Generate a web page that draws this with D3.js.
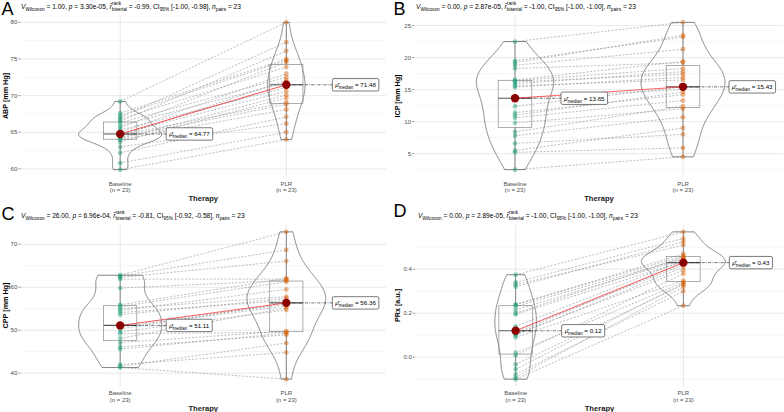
<!DOCTYPE html>
<html><head><meta charset="utf-8">
<script src="https://cdn.jsdelivr.net/npm/d3@7"></script>
<style>
body{margin:0;background:#fff}
svg{display:block}
text{font-family:"Liberation Sans",Arial,sans-serif;white-space:pre}
</style>
</head><body>
<svg id="chart" width="784" height="412"></svg>
<script>
// ---------------- DATA ----------------
const categories = ["Baseline", "PLR"];
const groupN = [23, 23];

// pairs: element i of Baseline is paired with element i of PLR
const abpBaseline = [59.9, 60.8, 62.2, 63.0, 63.7, 64.0, 64.1, 64.3, 64.5, 64.6, 64.7, 64.77, 65.0, 65.3, 65.6, 65.9, 66.3, 66.5, 66.8, 67.0, 67.3, 67.6, 69.2];
const abpPLR      = [64.0, 65.0, 67.1, 66.2, 69.7, 68.1, 70.1, 68.8, 72.1, 69.1, 71.48, 70.6, 73.0, 71.1, 74.6, 71.8, 72.5, 76.1, 73.9, 77.3, 74.8, 75.0, 80.0];

const icpBaseline = [2.5, 5.2, 5.5, 6.6, 7.8, 8.4, 9.8, 10.6, 11.0, 11.4, 12.4, 13.65, 15.4, 15.6, 15.9, 16.2, 16.4, 16.5, 18.3, 18.8, 19.2, 19.5, 22.5];
const icpPLR      = [4.5, 5.9, 9.0, 8.0, 10.7, 12.4, 12.0, 13.3, 14.6, 14.2, 15.43, 15.0, 16.9, 16.5, 17.8, 17.4, 18.3, 19.4, 19.2, 21.3, 23.5, 23.2, 25.5];

const cppBaseline = [41.3, 41.6, 42.0, 45.6, 46.1, 47.1, 48.1, 49.2, 49.6, 50.3, 50.8, 51.11, 53.6, 54.1, 54.6, 55.0, 55.5, 55.9, 59.8, 61.9, 62.3, 62.6, 62.8];
const cppPLR      = [38.6, 47.0, 44.8, 49.3, 48.9, 49.8, 55.2, 49.5, 54.7, 56.36, 55.6, 56.0, 57.4, 56.9, 59.5, 57.8, 61.3, 62.1, 61.6, 61.9, 66.1, 68.7, 72.9];

const prxBaseline = [-0.10, -0.092, -0.078, -0.055, -0.033, 0.008, 0.02, 0.09, 0.10, 0.105, 0.11, 0.12, 0.14, 0.195, 0.20, 0.215, 0.23, 0.238, 0.24, 0.32, 0.33, 0.34, 0.375];
const prxPLR      = [0.234, 0.32, 0.30, 0.335, 0.33, 0.38, 0.34, 0.348, 0.41, 0.395, 0.43, 0.42, 0.44, 0.435, 0.455, 0.445, 0.45, 0.47, 0.46, 0.525, 0.51, 0.54, 0.57];

const abpTicks = [60, 65, 70, 75, 80];       const abpTickLabels = ["60", "65", "70", "75", "80"];
const abpMinor = [62.5, 67.5, 72.5, 77.5];
const icpTicks = [5, 10, 15, 20, 25];         const icpTickLabels = ["5", "10", "15", "20", "25"];
const icpMinor = [2.5, 7.5, 12.5, 17.5, 22.5];
const cppTicks = [40, 50, 60, 70];            const cppTickLabels = ["40", "50", "60", "70"];
const cppMinor = [45, 55, 65];
const prxTicks = [0.0, 0.2, 0.4];             const prxTickLabels = ["0.0", "0.2", "0.4"];
const prxMinor = [-0.1, 0.1, 0.3, 0.5];

const panelLetters = ["A", "B", "C", "D"];
const yTitles = ["ABP [mm Hg]", "ICP [mm Hg]", "CPP [mm Hg]", "PRx [a.u.]"];
const xTitle = "Therapy";
const statV  = ["1.00", "0.00", "26.00", "0.00"];
const statP  = ["3.30e-05", "2.87e-05", "6.96e-04", "2.89e-05"];
const statR  = ["-0.99", "-1.00", "-0.81", "-1.00"];
const statCI = ["[-1.00, -0.98]", "[-1.00, -1.00]", "[-0.92, -0.58]", "[-1.00, -1.00]"];
const statN  = ["23", "23", "23", "23"];

// ---------------- LAYOUT / STYLE ----------------
const colors = ["#1B9E77", "#D95F02"];
const svg = d3.select("#chart");

const panels = [
  {base: abpBaseline, plr: abpPLR, ticks: abpTicks, labels: abpTickLabels, minor: abpMinor,
   L: 20.5, R: 386, T: 15, B: 177, ox: 0, titleX: 21, titleY: 9, letterY: 15},
  {base: icpBaseline, plr: icpPLR, ticks: icpTicks, labels: icpTickLabels, minor: icpMinor,
   L: 414.2, R: 783.8, T: 15, B: 177, ox: 392, titleX: 416, titleY: 9, letterY: 15},
  {base: cppBaseline, plr: cppPLR, ticks: cppTicks, labels: cppTickLabels, minor: cppMinor,
   L: 20.5, R: 386, T: 224.5, B: 386.5, ox: 0, titleX: 21, titleY: 218, letterY: 220},
  {base: prxBaseline, plr: prxPLR, ticks: prxTicks, labels: prxTickLabels, minor: prxMinor,
   L: 415, R: 784, T: 224.5, B: 386.5, ox: 392, titleX: 418, titleY: 218, letterY: 217}
];

function richText(g, x, y, fs, segs) {
  let cx = x;
  segs.forEach(s => {
    if (s.t === "n" || s.t === "i") {
      const t = g.append("text").attr("x", cx).attr("y", y).attr("font-size", fs)
        .attr("font-style", s.t === "i" ? "italic" : null).attr("fill", "#000").text(s.s);
      cx += t.node().getComputedTextLength();
    } else if (s.t === "sub") {
      const t = g.append("text").attr("x", cx).attr("y", y + fs * 0.3).attr("font-size", fs * 0.72)
        .attr("fill", "#000").text(s.s);
      cx += t.node().getComputedTextLength();
    } else if (s.t === "subsup") {
      const a = g.append("text").attr("x", cx).attr("y", y + fs * 0.3).attr("font-size", fs * 0.72)
        .attr("fill", "#000").text(s.sub);
      const b = g.append("text").attr("x", cx).attr("y", y - fs * 0.6).attr("font-size", fs * 0.72)
        .attr("fill", "#000").text(s.sup);
      cx += Math.max(a.node().getComputedTextLength(), b.node().getComputedTextLength());
    }
  });
  return cx - x;
}

function kde(values, grid) {
  const n = values.length;
  const sd = d3.deviation(values);
  const iqr = d3.quantile(values, 0.75) - d3.quantile(values, 0.25);
  const bw = 0.9 * Math.min(sd, iqr / 1.34) * Math.pow(n, -0.2);
  return grid.map(y => {
    let s = 0;
    for (const v of values) { const u = (y - v) / bw; s += Math.exp(-0.5 * u * u); }
    return s / (n * bw * Math.sqrt(2 * Math.PI));
  });
}

panels.forEach((p, pi) => {
  const g = svg.append("g");
  const all = p.base.concat(p.plr);
  const [mn, mx] = d3.extent(all);
  const pad = (mx - mn) * 0.05;
  const y = d3.scaleLinear().domain([mn - pad, mx + pad]).range([p.B, p.T]);
  const x = d3.scalePoint().domain(categories).range([p.L, p.R]).padding(0.6);
  const step = x.step();

  // grid
  g.selectAll(".minor").data(p.minor).join("line")
    .attr("x1", p.L).attr("x2", p.R).attr("y1", d => y(d)).attr("y2", d => y(d))
    .attr("stroke", "#f0f0f0").attr("stroke-width", 0.6);
  g.selectAll(".major").data(p.ticks).join("line")
    .attr("x1", p.L).attr("x2", p.R).attr("y1", d => y(d)).attr("y2", d => y(d))
    .attr("stroke", "#e3e3e3").attr("stroke-width", 0.8);
  g.selectAll(".vg").data(categories).join("line")
    .attr("x1", d => x(d)).attr("x2", d => x(d)).attr("y1", p.T).attr("y2", p.B)
    .attr("stroke", "#e3e3e3").attr("stroke-width", 0.8);

  // y axis ticks and labels
  p.ticks.forEach((t, i) => {
    g.append("line").attr("x1", p.L - 2.2).attr("x2", p.L).attr("y1", y(t)).attr("y2", y(t))
      .attr("stroke", "#555").attr("stroke-width", 0.6);
    g.append("text").attr("x", p.L - 3.2).attr("y", y(t) + 2.1).attr("text-anchor", "end")
      .attr("font-size", 6).attr("fill", "#4d4d4d").text(p.labels[i]);
  });
  // y title
  g.append("text").attr("transform", `translate(${p.ox + 8},${(p.T + p.B) / 2}) rotate(-90)`)
    .attr("text-anchor", "middle").attr("font-size", 7.2).attr("font-weight", "bold")
    .attr("fill", "#000").text(yTitles[pi]);
  // x labels
  categories.forEach((c, i) => {
    g.append("text").attr("x", x(c)).attr("y", p.B + 8.5).attr("text-anchor", "middle")
      .attr("font-size", 6).attr("fill", "#4d4d4d").text(c);
    g.append("text").attr("x", x(c)).attr("y", p.B + 15).attr("text-anchor", "middle")
      .attr("font-size", 6).attr("fill", "#4d4d4d").text(`(n = ${groupN[i]})`);
  });
  g.append("text").attr("x", (p.L + p.R) / 2).attr("y", p.B + 24).attr("text-anchor", "middle")
    .attr("font-size", 7.6).attr("font-weight", "bold").attr("fill", "#222").text(xTitle);

  // letter + title
  g.append("text").attr("x", p.ox + 1.5).attr("y", p.letterY).attr("font-size", 18)
    .attr("fill", "#000").text(panelLetters[pi]);
  richText(g, p.titleX, p.titleY, 6.6, [
    {t: "i", s: "V"}, {t: "sub", s: "Wilcoxon"}, {t: "n", s: ` = ${statV[pi]}, `},
    {t: "i", s: "p"}, {t: "n", s: ` = ${statP[pi]}, `},
    {t: "i", s: "r\u0302"}, {t: "subsup", sub: "biserial", sup: "rank"},
    {t: "n", s: ` = ${statR[pi]}, CI`}, {t: "sub", s: "95%"},
    {t: "n", s: ` ${statCI[pi]}, `}, {t: "i", s: "n"}, {t: "sub", s: "pairs"},
    {t: "n", s: ` = ${statN[pi]}`}
  ]);

  const groups = [p.base, p.plr];
  // violins (area scaled)
  const dens = groups.map(v => {
    const [a, b] = d3.extent(v);
    const grid = d3.range(512).map(k => a + (b - a) * k / 511);
    return {grid, d: kde(v, grid)};
  });
  const maxD = d3.max(dens, o => d3.max(o.d));
  const hw = d3.scaleLinear().domain([0, maxD]).range([0, step * 0.25]);
  dens.forEach((o, gi) => {
    const cx = x(categories[gi]);
    const pts = o.grid.map((v, k) => [cx + hw(o.d[k]), y(v)])
      .concat(o.grid.map((v, k) => [cx - hw(o.d[k]), y(v)]).reverse());
    g.append("path").attr("d", d3.line()(pts) + "Z").attr("fill", "none")
      .attr("stroke", "#333").attr("stroke-width", 0.6);
  });

  // boxplots
  groups.forEach((v, gi) => {
    const cx = x(categories[gi]);
    const s = v.slice().sort(d3.ascending);
    const q1 = d3.quantile(s, 0.25), q2 = d3.quantile(s, 0.5), q3 = d3.quantile(s, 0.75);
    const bwid = step * 0.2;
    g.append("line").attr("x1", cx).attr("x2", cx).attr("y1", y(s[0])).attr("y2", y(q1))
      .attr("stroke", "#555").attr("stroke-width", 0.7);
    g.append("line").attr("x1", cx).attr("x2", cx).attr("y1", y(q3)).attr("y2", y(s[s.length - 1]))
      .attr("stroke", "#555").attr("stroke-width", 0.7);
    g.append("rect").attr("x", cx - bwid / 2).attr("width", bwid)
      .attr("y", y(q3)).attr("height", y(q1) - y(q3))
      .attr("fill", "none").attr("stroke", "#8a8a8a").attr("stroke-width", 0.7);
    g.append("line").attr("x1", cx - bwid / 2).attr("x2", cx + bwid / 2).attr("y1", y(q2)).attr("y2", y(q2))
      .attr("stroke", "#555").attr("stroke-width", 1.1);
  });

  // paired lines
  p.base.forEach((v, i) => {
    g.append("line").attr("x1", x(categories[0])).attr("y1", y(v))
      .attr("x2", x(categories[1])).attr("y2", y(p.plr[i]))
      .attr("stroke", "#7a7a7a").attr("stroke-width", 0.55).attr("stroke-dasharray", "2,1.6")
      .attr("opacity", 0.9);
  });

  // points
  groups.forEach((v, gi) => {
    g.selectAll(null).data(v).join("circle")
      .attr("cx", x(categories[gi])).attr("cy", d => y(d)).attr("r", 2.4)
      .attr("fill", colors[gi]).attr("fill-opacity", 0.45);
  });

  // medians
  const meds = groups.map(v => d3.median(v));
  g.append("line").attr("x1", x(categories[0])).attr("y1", y(meds[0]))
    .attr("x2", x(categories[1])).attr("y2", y(meds[1]))
    .attr("stroke", "#ff3030").attr("stroke-opacity", 0.75).attr("stroke-width", 1);
  meds.forEach((m, gi) => {
    const cx = x(categories[gi]), cy = y(m);
    const lx = cx + 46;
    g.append("line").attr("x1", cx).attr("x2", lx).attr("y1", cy).attr("y2", cy)
      .attr("stroke", "#111").attr("stroke-width", 0.6).attr("stroke-dasharray", "3,1.2,0.8,1.2");
    g.append("circle").attr("cx", cx).attr("cy", cy).attr("r", 4.2).attr("fill", "#8B0000");
    const lg = g.append("g");
    const rect = lg.append("rect").attr("fill", "#fff").attr("stroke", "#222")
      .attr("stroke-width", 0.6).attr("rx", 1.5);
    const w = richText(lg, lx + 3, cy + 2.4, 6.2, [
      {t: "i", s: "\u03bc\u0302"}, {t: "sub", s: "median"}, {t: "n", s: ` = ${d3.format(".2f")(m)}`}
    ]);
    rect.attr("x", lx).attr("y", cy - 6.2).attr("width", w + 6).attr("height", 12.4);
  });
});
</script>
</body></html>
